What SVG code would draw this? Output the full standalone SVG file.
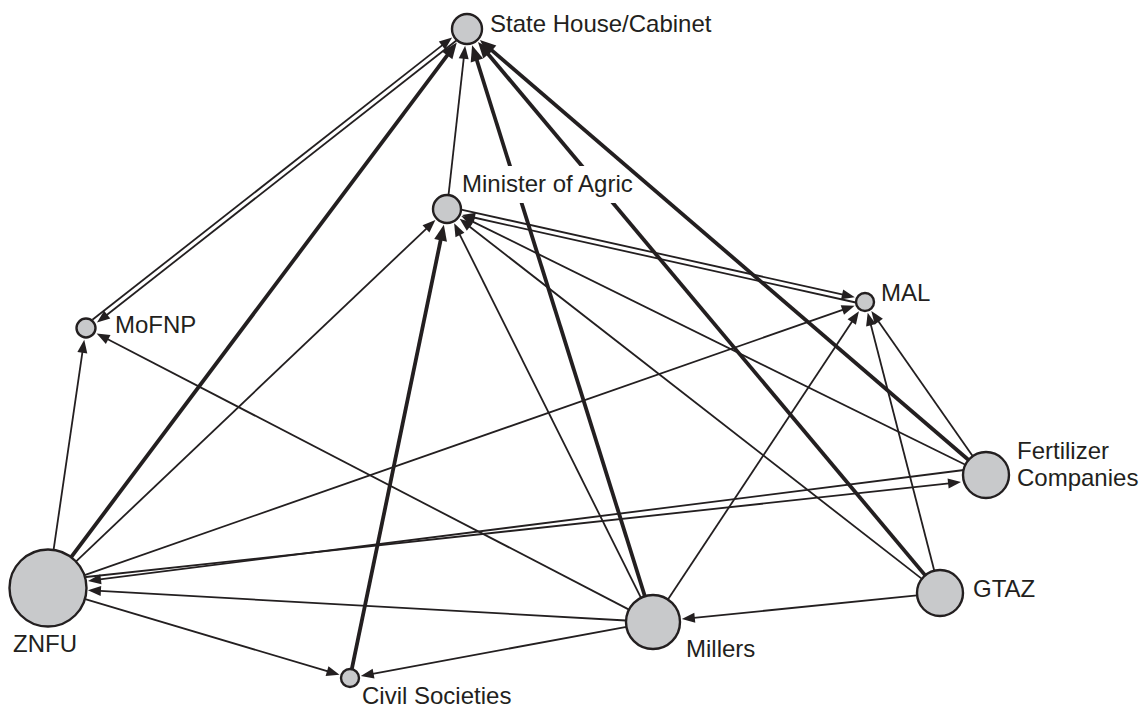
<svg xmlns="http://www.w3.org/2000/svg" width="1142" height="708" viewBox="0 0 1142 708">
<style>
.e{stroke:#231f20;fill:none;stroke-width:1.8}
.t{stroke-width:3.8}
.n{fill:#c8c9cb;stroke:#231f20;stroke-width:2.4}
.l{font-family:"Liberation Sans",Arial,sans-serif;font-size:24px;fill:#231f20}
</style>
<defs>
<marker id="a" markerUnits="userSpaceOnUse" markerWidth="14" markerHeight="11" refX="1" refY="5" orient="auto" overflow="visible"><path d="M0,0 L13,5 L0,10 z" fill="#231f20"/></marker>
<marker id="b" markerUnits="userSpaceOnUse" markerWidth="17" markerHeight="14" refX="1" refY="6.5" orient="auto" overflow="visible"><path d="M0,0 L16,6.5 L0,13 z" fill="#231f20"/></marker>
</defs>
<rect width="1142" height="708" fill="#fff"/>
<g id="connectors">
<line class="e" x1="92.4" y1="319.8" x2="442.7" y2="44.9" marker-end="url(#a)"/>
<line class="e" x1="456.7" y1="40.2" x2="106.4" y2="315.2" marker-end="url(#a)"/>
<line class="e t" x1="70.8" y1="557.6" x2="447.8" y2="54.6" marker-end="url(#b)"/>
<line class="e" x1="448.5" y1="195.1" x2="463.8" y2="57.8" marker-end="url(#a)"/>
<line class="e t" x1="644.9" y1="596.2" x2="476.6" y2="59.5" marker-end="url(#b)"/>
<line class="e t" x1="925.2" y1="575.4" x2="487.6" y2="53.5" marker-end="url(#b)"/>
<line class="e t" x1="968.6" y1="460.0" x2="491.3" y2="49.9" marker-end="url(#b)"/>
<line class="e" x1="75.6" y1="561.8" x2="426.7" y2="228.3" marker-end="url(#a)"/>
<line class="e t" x1="351.8" y1="669.2" x2="440.8" y2="239.4" marker-end="url(#b)"/>
<line class="e" x1="641.0" y1="597.8" x2="459.5" y2="234.1" marker-end="url(#a)"/>
<line class="e" x1="921.9" y1="578.9" x2="469.1" y2="226.2" marker-end="url(#a)"/>
<line class="e" x1="965.4" y1="464.8" x2="472.1" y2="221.4" marker-end="url(#a)"/>
<line class="e" x1="461.2" y1="209.6" x2="843.1" y2="294.6" marker-end="url(#a)"/>
<line class="e" x1="855.7" y1="302.5" x2="473.8" y2="217.5" marker-end="url(#a)"/>
<line class="e" x1="83.9" y1="575.4" x2="843.3" y2="309.6" marker-end="url(#a)"/>
<line class="e" x1="667.9" y1="599.5" x2="852.3" y2="321.2" marker-end="url(#a)"/>
<line class="e" x1="934.3" y1="570.7" x2="870.7" y2="324.3" marker-end="url(#a)"/>
<line class="e" x1="972.8" y1="456.2" x2="878.2" y2="320.9" marker-end="url(#a)"/>
<line class="e" x1="53.5" y1="550.4" x2="82.5" y2="351.7" marker-end="url(#a)"/>
<line class="e" x1="629.0" y1="609.6" x2="107.3" y2="339.0" marker-end="url(#a)"/>
<line class="e" x1="86" y1="577" x2="949.1" y2="483.4" marker-end="url(#a)"/>
<line class="e" x1="964" y1="470" x2="99.9" y2="579.4" marker-end="url(#a)"/>
<line class="e" x1="626.0" y1="620.5" x2="99.9" y2="590.9" marker-end="url(#a)"/>
<line class="e" x1="84.4" y1="598.9" x2="328.0" y2="671.4" marker-end="url(#a)"/>
<line class="e" x1="626.5" y1="626.9" x2="372.6" y2="673.8" marker-end="url(#a)"/>
<line class="e" x1="917.1" y1="595.3" x2="693.8" y2="617.9" marker-end="url(#a)"/>
</g>
<g id="node-statehouse"><circle class="n" cx="467" cy="29" r="15"/><text class="l" x="490" y="32">State House/Cabinet</text></g>
<g id="node-minister"><rect x="458" y="166" width="164" height="37" fill="#fff"/><circle class="n" cx="447" cy="209" r="14"/><text class="l" x="462" y="192">Minister of Agric</text></g>
<g id="node-mal"><circle class="n" cx="865" cy="302" r="9"/><text class="l" x="881" y="301">MAL</text></g>
<g id="node-mofnp"><circle class="n" cx="86" cy="328" r="9.5"/><text class="l" x="115" y="333">MoFNP</text></g>
<g id="node-znfu"><circle class="n" cx="48" cy="588" r="38.5"/><text class="l" x="13" y="652">ZNFU</text></g>
<g id="node-millers"><circle class="n" cx="653" cy="622" r="27"/><text class="l" x="686" y="657">Millers</text></g>
<g id="node-civil"><circle class="n" cx="350" cy="678" r="9"/><text class="l" x="362" y="704">Civil Societies</text></g>
<g id="node-fertilizer"><circle class="n" cx="986" cy="475" r="23"/><text class="l" x="1017" y="459">Fertilizer</text><text class="l" x="1017" y="486">Companies</text></g>
<g id="node-gtaz"><circle class="n" cx="940" cy="593" r="23"/><text class="l" x="973" y="597">GTAZ</text></g>
</svg>
